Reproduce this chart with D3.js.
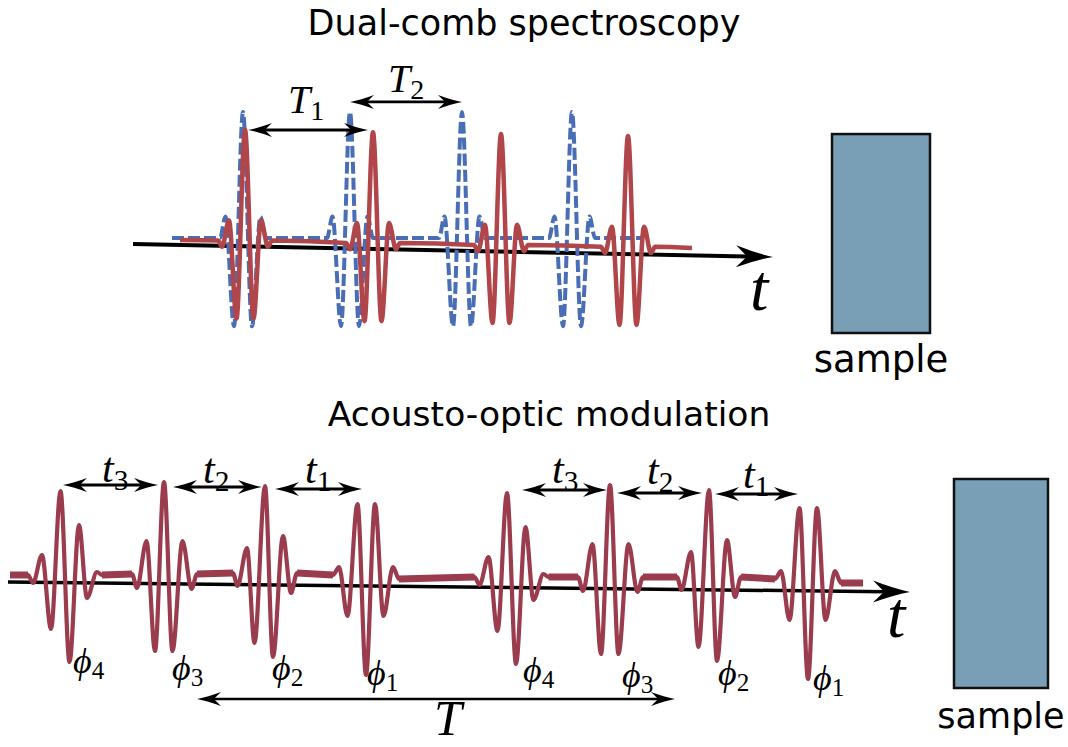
<!DOCTYPE html>
<html>
<head>
<meta charset="utf-8">
<script src="https://cdn.jsdelivr.net/npm/d3@7"></script>
<style>
  body { margin: 0; background: #fff; }
  svg { display: block; }
</style>
</head>
<body>
<svg id="fig"></svg>
<script>
// ---- data (time in arbitrary units, amplitude normalised) ----
const topTitle = "Dual-comb spectroscopy";
const bottomTitle = "Acousto-optic modulation";
const sampleLabel = "sample";

// dual comb: pulse centres of the two combs
const blueCenters = [11.0, 21.7, 32.9, 43.9];
const redCenters = [11.2, 24.0, 36.8, 49.5];
const redLevels = [-0.02, -0.04, -0.055, -0.07];
// pulse shapes (extrema offsets / amplitudes)
const blueShapeT = [-2.3, -1.75, -0.9, 0, 0.9, 1.75, 2.3];
const blueShapeA = [0, 0.17, -0.7, 1.0, -0.7, 0.17, 0];
const redShapeT = [-2.7, -2.3, -1.6, -0.85, 0, 0.85, 1.6, 2.3, 2.7];
const redShapeA = [0, -0.05, 0.16, -0.62, 0.88, -0.62, 0.16, -0.05, 0];
const blueEnds = [[3.9, 0], [51.0, 0]];
const redEnds = [[4.7, -0.016], [55.9, -0.08]];
const topAxis = [[0, -0.048], [64, -0.151]];
const periodNames = ["1", "2"];
const periodStart = [11.5, 21.7];
const periodEnd = [23.5, 32.9];
const periodLevel = [0.857, 1.08];

// acousto-optic: 8 pulses, 4 phases repeated
const aoCenters = [5.7, 15.6, 25.7, 35.8, 50.35, 60.2, 70.1, 80.0];
const aoLevels = [0.02, 0.03, 0.04, 0.02, 0, 0, 0, -0.02];
const aoPhase = [0, 1, 2, 3, 0, 1, 2, 3];
const phiNames = ["4", "3", "2", "1", "4", "3", "2", "1"];
const phaseShapeT = [
  [-3.7, -3.2, -2.3, -1.4, -0.45, 0.45, 1.4, 2.2, 3.2, 3.7],
  [-3.2, -2.7, -1.75, -0.9, 0, 0.85, 1.85, 2.75, 3.3],
  [-3.2, -2.75, -1.8, -1.05, 0, 0.8, 1.8, 2.6, 3.2],
  [-3.3, -2.7, -1.85, -0.85, 0, 0.9, 1.75, 2.7, 3.3]
];
const phaseShapeA = [
  [0, -0.08, 0.2, -0.54, 0.84, -0.87, 0.5, -0.23, 0.03, 0],
  [0, -0.14, 0.33, -0.77, 0.92, -0.77, 0.33, -0.15, 0],
  [0, -0.13, 0.25, -0.7, 0.87, -0.84, 0.37, -0.2, 0],
  [0, 0.08, -0.41, 0.71, -1.0, 0.71, -0.41, 0.08, -0.04]
];
const aoEnds = [[0.2, 0.02], [85.5, -0.06]];
const botAxis = [[0, -0.05], [90.2, -0.15]];
const delayNames = ["3", "2", "1", "3", "2", "1"];
const delayStart = [5.5, 16.5, 26.7, 51.4, 60.9, 70.7];
const delayEnd = [15.0, 25.4, 35.4, 59.9, 69.4, 79.0];
const delayLevel = [0.92, 0.9, 0.88, 0.87, 0.84, 0.83];
const repSpan = [18.9, 66.7, -1.22];

// ---- layout ----
const width = 1068, height = 747;
const red = "#b0454a", blue = "#4a6eb5", darkRed = "#9a3c4e", boxFill = "#789fb6";
const sans = "DejaVu Sans", serif = "Liberation Serif, DejaVu Serif";

const svg = d3.select("#fig").attr("width", width).attr("height", height);

const xTop = d3.scaleLinear().domain([0, 64]).range([133, 773]);
const yTop = d3.scaleLinear().domain([-1, 1]).range([364, 112]);
const xBot = d3.scaleLinear().domain([0, 90.2]).range([8, 910]);
const yBot = d3.scaleLinear().domain([-1, 1]).range([677, 477]);

// arrow heads
const defs = svg.append("defs");
function head(id, L, W) {
  defs.append("marker")
    .attr("id", id)
    .attr("markerUnits", "userSpaceOnUse")
    .attr("markerWidth", 1).attr("markerHeight", 1)
    .attr("refX", -0.7 * L).attr("refY", 0)
    .attr("orient", "auto-start-reverse")
    .style("overflow", "visible")
    .append("path")
    .attr("d", `M0,0 Q${-0.45 * L},${-0.3 * W} ${-L},${-W} L${-0.7 * L},0 L${-L},${W} Q${-0.45 * L},${0.3 * W} 0,0Z`)
    .attr("fill", "#000");
}
head("bigHead", 37, 11);
head("smallHead", 24, 7);

// line shortened at the marked ends so the shaft hides under the head
function arrow(g, x0, y0, x1, y1, cut0, cut1, marker, sw) {
  const len = Math.hypot(x1 - x0, y1 - y0), ux = (x1 - x0) / len, uy = (y1 - y0) / len;
  const l = g.append("line")
    .attr("x1", x0 + ux * cut0).attr("y1", y0 + uy * cut0)
    .attr("x2", x1 - ux * cut1).attr("y2", y1 - uy * cut1)
    .attr("stroke", "#000").attr("stroke-width", sw)
    .attr("marker-end", `url(#${marker})`);
  if (cut0 > 0) l.attr("marker-start", `url(#${marker})`);
}

function mathLabel(g, x, y, base, sub, size) {
  const t = g.append("text").attr("x", x).attr("y", y)
    .attr("font-family", serif).attr("font-size", size).attr("fill", "#000");
  t.append("tspan").attr("font-style", "italic").text(base);
  if (sub) t.append("tspan").attr("font-size", size * 0.7).attr("dy", size * 0.18).text(sub);
}

function train(ends, centers, levels, shapesT, shapesA) {
  const pts = [ends[0]];
  centers.forEach((c, i) => {
    shapesT[i].forEach((dt, j) => pts.push([c + dt, levels[i] + shapesA[i][j]]));
  });
  pts.push(ends[1]);
  return pts;
}

// ---------------- top panel ----------------
const gTop = svg.append("g");
gTop.append("text").attr("x", 524).attr("y", 35).attr("text-anchor", "middle")
  .attr("font-family", sans).attr("font-size", 35).text(topTitle);

arrow(gTop, xTop(topAxis[0][0]), yTop(topAxis[0][1]), xTop(topAxis[1][0]), yTop(topAxis[1][1]),
  0, 0.7 * 37, "bigHead", 4);

const lineTop = d3.line().x(d => xTop(d[0])).y(d => yTop(d[1])).curve(d3.curveMonotoneX);

const bluePts = train(blueEnds, blueCenters, blueCenters.map(() => 0),
  blueCenters.map(() => blueShapeT), blueCenters.map(() => blueShapeA));
gTop.append("path").attr("d", lineTop(bluePts)).attr("fill", "none")
  .attr("stroke", blue).attr("stroke-width", 4).attr("stroke-dasharray", "12,4");

const redPts = train(redEnds, redCenters, redLevels,
  redCenters.map(() => redShapeT), redCenters.map(() => redShapeA));
gTop.append("path").attr("d", lineTop(redPts)).attr("fill", "none")
  .attr("stroke", red).attr("stroke-width", 4.5).attr("stroke-linejoin", "round");

periodNames.forEach((n, i) => {
  arrow(gTop, xTop(periodStart[i]), yTop(periodLevel[i]), xTop(periodEnd[i]), yTop(periodLevel[i]),
    0.7 * 24, 0.7 * 24, "smallHead", 2.8);
});
mathLabel(gTop, xTop(15.5), yTop(0.99), "T", periodNames[0], 40);
mathLabel(gTop, xTop(25.5), yTop(1.16), "T", periodNames[1], 40);
mathLabel(gTop, xTop(61.7), yTop(-0.57), "t", null, 66);

gTop.append("rect")
  .attr("x", xTop(69.9)).attr("y", yTop(0.825))
  .attr("width", xTop(79.7) - xTop(69.9)).attr("height", yTop(-0.754) - yTop(0.825))
  .attr("fill", boxFill).attr("stroke", "#111").attr("stroke-width", 2.5);
gTop.append("text").attr("x", xTop(74.8)).attr("y", 372).attr("text-anchor", "middle")
  .attr("font-family", sans).attr("font-size", 37).text(sampleLabel);

// ---------------- bottom panel ----------------
const gBot = svg.append("g");
gBot.append("text").attr("x", 549).attr("y", 426).attr("text-anchor", "middle")
  .attr("font-family", sans).attr("font-size", 34.5).text(bottomTitle);

arrow(gBot, xBot(botAxis[0][0]), yBot(botAxis[0][1]), xBot(botAxis[1][0]), yBot(botAxis[1][1]),
  0, 0.7 * 37, "bigHead", 3.5);

const lineBot = d3.line().x(d => xBot(d[0])).y(d => yBot(d[1])).curve(d3.curveMonotoneX);
const aoPts = train(aoEnds, aoCenters, aoLevels,
  aoPhase.map(p => phaseShapeT[p]), aoPhase.map(p => phaseShapeA[p]));

// flat stretches between pulses are drawn heavier, as in the original
const flats = [];
let prev = aoEnds[0];
aoCenters.forEach((c, i) => {
  const sT = phaseShapeT[aoPhase[i]], sA = phaseShapeA[aoPhase[i]];
  flats.push([prev, [c + sT[0], aoLevels[i] + sA[0]]]);
  prev = [c + sT[sT.length - 1], aoLevels[i] + sA[sA.length - 1]];
});
flats.push([prev, aoEnds[1]]);
gBot.selectAll("path.flat").data(flats).enter().append("path")
  .attr("class", "flat")
  .attr("d", d => d3.line().x(p => xBot(p[0])).y(p => yBot(p[1]))(d))
  .attr("stroke", darkRed).attr("stroke-width", 7).attr("fill", "none");

gBot.append("path").attr("d", lineBot(aoPts)).attr("fill", "none")
  .attr("stroke", darkRed).attr("stroke-width", 4.2).attr("stroke-linejoin", "round");

delayNames.forEach((n, i) => {
  arrow(gBot, xBot(delayStart[i]), yBot(delayLevel[i]), xBot(delayEnd[i]), yBot(delayLevel[i]),
    0.7 * 24, 0.7 * 24, "smallHead", 2.8);
});
const delayLabelT = [9.4, 19.5, 29.7, 54.4, 63.9, 73.5];
const delayLabelA = [0.95, 0.94, 0.94, 0.94, 0.93, 0.89];
delayNames.forEach((n, i) => mathLabel(gBot, xBot(delayLabelT[i]), yBot(delayLabelA[i]), "t", n, 42));

const phiLabelT = [6.5, 16.4, 26.4, 35.9, 51.5, 61.4, 71.0, 80.5];
const phiLabelA = [-0.96, -1.03, -1.03, -1.08, -1.05, -1.1, -1.08, -1.13];
phiNames.forEach((n, i) => mathLabel(gBot, xBot(phiLabelT[i]), yBot(phiLabelA[i]), "\u03D5", n, 36));

arrow(gBot, xBot(repSpan[0]), yBot(repSpan[2]), xBot(repSpan[1]), yBot(repSpan[2]),
  0.7 * 24, 0.7 * 24, "smallHead", 2.6);
mathLabel(gBot, xBot(42.6), yBot(-1.58), "T", null, 50);
mathLabel(gBot, xBot(87.9), yBot(-0.6), "t", null, 66);

gBot.append("rect")
  .attr("x", xBot(94.6)).attr("y", yBot(0.98))
  .attr("width", xBot(104.0) - xBot(94.6)).attr("height", yBot(-1.11) - yBot(0.98))
  .attr("fill", boxFill).attr("stroke", "#111").attr("stroke-width", 2.5);
gBot.append("text").attr("x", xBot(99.3)).attr("y", 728).attr("text-anchor", "middle")
  .attr("font-family", sans).attr("font-size", 35).text(sampleLabel);
</script>
</body>
</html>
